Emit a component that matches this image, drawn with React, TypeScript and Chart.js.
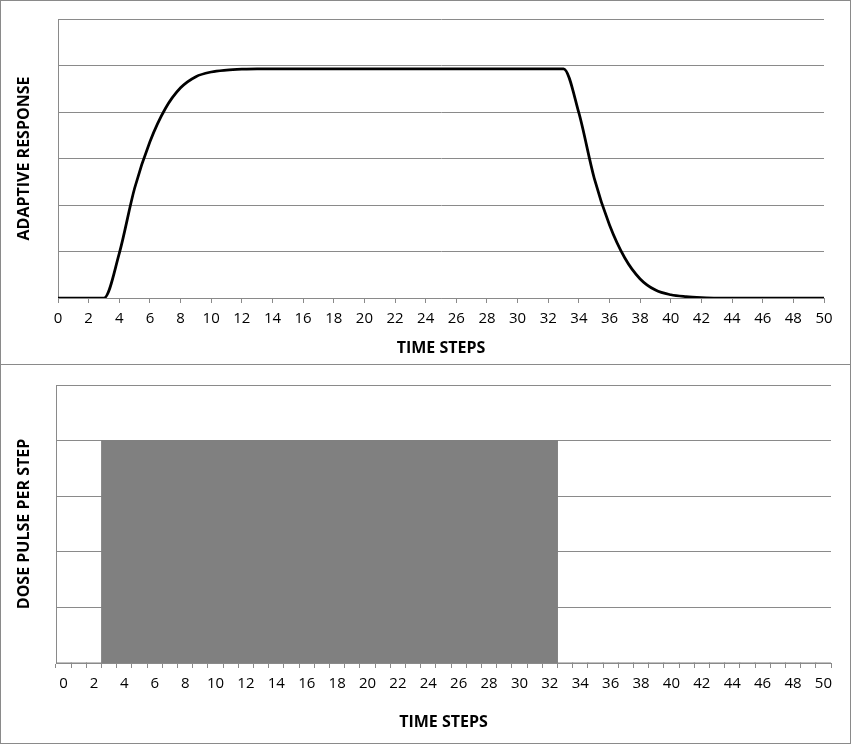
import React, { useEffect, useRef } from "react";
import { Chart, registerables } from "chart.js";

Chart.register(...registerables);

// Time steps (categories) 0..50
const timeSteps: string[] = [
  "0", "1", "2", "3", "4", "5", "6", "7", "8", "9",
  "10", "11", "12", "13", "14", "15", "16", "17", "18", "19",
  "20", "21", "22", "23", "24", "25", "26", "27", "28", "29",
  "30", "31", "32", "33", "34", "35", "36", "37", "38", "39",
  "40", "41", "42", "43", "44", "45", "46", "47", "48", "49", "50",
];

// Adaptive response per time step
const responseValues: number[] = [
  0, 0, 0, 0, 0.96, 2.36, 3.36, 4.07, 4.52, 4.76,
  4.86, 4.9, 4.92, 4.93, 4.93, 4.93, 4.93, 4.93, 4.93, 4.93,
  4.93, 4.93, 4.93, 4.93, 4.93, 4.93, 4.93, 4.93, 4.93, 4.93,
  4.93, 4.93, 4.93, 4.93, 3.98, 2.58, 1.57, 0.86, 0.41, 0.17,
  0.07, 0.03, 0.01, 0, 0, 0, 0, 0, 0, 0, 0,
];

// Dose pulse per step
const doseValues: number[] = [
  0, 0, 0, 4, 4, 4, 4, 4, 4, 4,
  4, 4, 4, 4, 4, 4, 4, 4, 4, 4,
  4, 4, 4, 4, 4, 4, 4, 4, 4, 4,
  4, 4, 4, 0, 0, 0, 0, 0, 0, 0,
  0, 0, 0, 0, 0, 0, 0, 0, 0, 0, 0,
];

const xAxisTitle = "TIME STEPS";
const topYTitle = "ADAPTIVE RESPONSE";
const bottomYTitle = "DOSE PULSE PER STEP";

const FONT = "'Open Sans', 'Noto Sans', sans-serif";
const GRID = "#8a8a8a";

export default function App() {
  const topRef = useRef<HTMLCanvasElement | null>(null);
  const botRef = useRef<HTMLCanvasElement | null>(null);

  useEffect(() => {
    if (!topRef.current || !botRef.current) return;

    const linePoints = timeSteps.map((s, i) => ({ x: Number(s), y: responseValues[i] }));

    const top = new Chart(topRef.current, {
      type: "line",
      data: {
        datasets: [
          {
            data: linePoints,
            borderColor: "#000000",
            borderWidth: 2.75,
            pointRadius: 0,
            fill: false,
            cubicInterpolationMode: "monotone",
          },
        ],
      },
      options: {
        animation: false,
        responsive: false,
        events: [],
        layout: { padding: { top: 19, right: 27, left: 0, bottom: 0 } },
        plugins: { legend: { display: false }, tooltip: { enabled: false } },
        scales: {
          x: {
            type: "linear",
            min: 0,
            max: 50,
            afterFit: (s: any) => {
              s.height = 66;
            },
            ticks: {
              stepSize: 2,
              color: "#000",
              padding: 7,
              maxRotation: 0,
              font: { family: FONT, size: 15 },
            },
            grid: { drawOnChartArea: false, drawTicks: true, tickLength: 5, color: GRID },
            border: { display: true, color: GRID, width: 1 },
            title: {
              display: true,
              text: xAxisTitle,
              color: "#000",
              font: { family: FONT, size: 16, weight: "bold" },
              padding: { top: 0, bottom: 6 },
            },
          },
          y: {
            min: 0,
            max: 6,
            afterFit: (s: any) => {
              s.width = 58;
            },
            ticks: { stepSize: 1, display: false },
            grid: { drawTicks: false, color: GRID },
            border: { display: true, color: GRID, width: 1 },
            title: {
              display: true,
              text: topYTitle,
              color: "#000",
              font: { family: FONT, size: 16, weight: "bold" },
              padding: { top: 15, bottom: 0 },
            },
          },
        },
      },
    } as any);

    const bot = new Chart(botRef.current, {
      type: "bar",
      data: {
        labels: timeSteps,
        datasets: [
          {
            data: doseValues,
            backgroundColor: "#808080",
            borderWidth: 0,
            inflateAmount: 0.5,
            barPercentage: 1,
            categoryPercentage: 1,
          },
        ],
      },
      options: {
        animation: false,
        responsive: false,
        events: [],
        layout: { padding: { top: 21, right: 20, left: 0, bottom: 0 } },
        plugins: { legend: { display: false }, tooltip: { enabled: false } },
        scales: {
          x: {
            type: "category",
            offset: true,
            afterFit: (s: any) => {
              s.height = 81;
            },
            ticks: {
              autoSkip: false,
              maxRotation: 0,
              color: "#000",
              padding: 7,
              font: { family: FONT, size: 15 },
              callback: (_v: any, i: number) => (i % 2 === 0 ? timeSteps[i] : ""),
            },
            grid: { offset: true, drawOnChartArea: false, drawTicks: true, tickLength: 5, color: GRID },
            border: { display: true, color: GRID, width: 1 },
            title: {
              display: true,
              text: xAxisTitle,
              color: "#000",
              font: { family: FONT, size: 16, weight: "bold" },
              padding: { top: 0, bottom: 12 },
            },
          },
          y: {
            min: 0,
            max: 5,
            afterFit: (s: any) => {
              s.width = 56;
            },
            ticks: { stepSize: 1, display: false },
            grid: { drawTicks: false, color: GRID },
            border: { display: true, color: GRID, width: 1 },
            title: {
              display: true,
              text: bottomYTitle,
              color: "#000",
              font: { family: FONT, size: 16, weight: "bold" },
              padding: { top: 15, bottom: 0 },
            },
          },
        },
      },
    } as any);

    return () => {
      top.destroy();
      bot.destroy();
    };
  }, []);

  return (
    <div style={{ position: "absolute", left: 0, top: 0, width: 852, height: 745, background: "#fff" }}>
      <canvas
        ref={topRef}
        width={851}
        height={364}
        style={{ position: "absolute", left: 0, top: 0, width: 851, height: 364 }}
      />
      <canvas
        ref={botRef}
        width={851}
        height={380}
        style={{ position: "absolute", left: 0, top: 364, width: 851, height: 380 }}
      />
      <div
        style={{
          position: "absolute",
          left: 0,
          top: 0,
          width: 851,
          height: 365,
          border: "1px solid #8a8a8a",
          boxSizing: "border-box",
          pointerEvents: "none",
        }}
      />
      <div
        style={{
          position: "absolute",
          left: 0,
          top: 364,
          width: 851,
          height: 380,
          border: "1px solid #8a8a8a",
          boxSizing: "border-box",
          pointerEvents: "none",
        }}
      />
    </div>
  );
}
